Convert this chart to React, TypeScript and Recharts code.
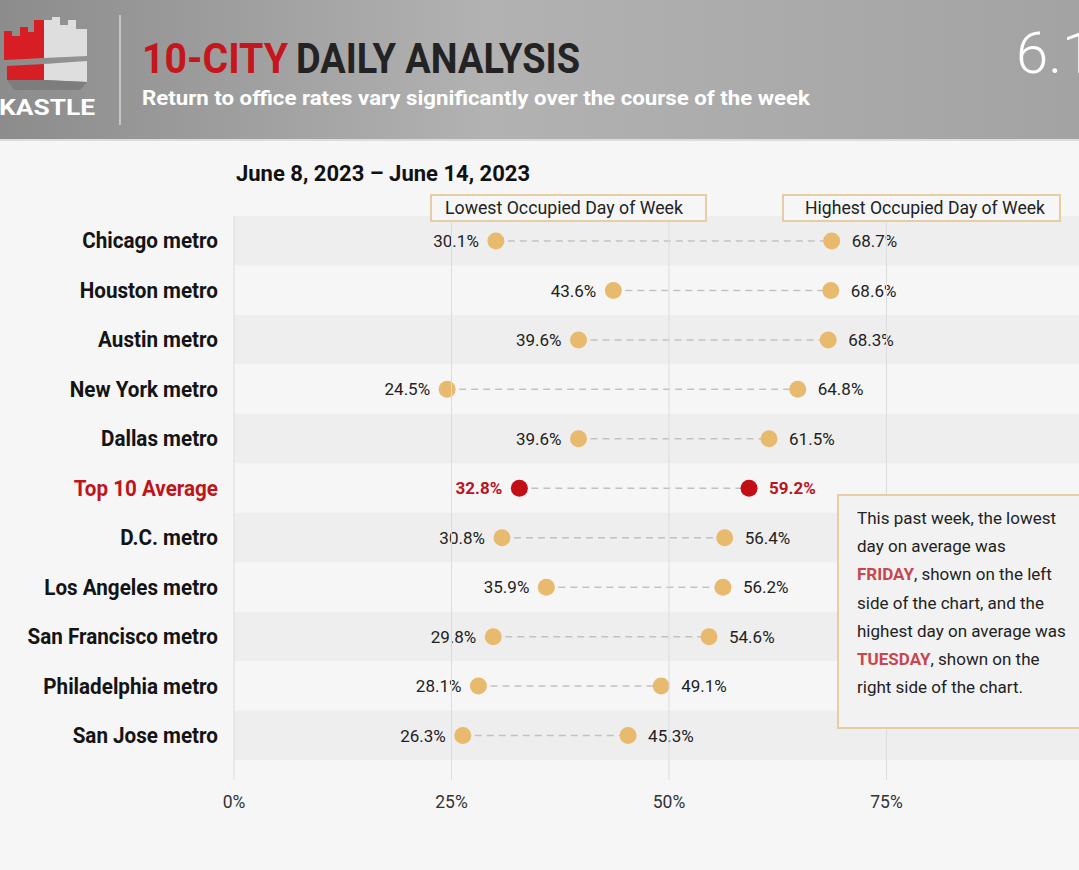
import React from 'react';
import {
  ComposedChart,
  Bar,
  XAxis,
  YAxis,
  ReferenceArea,
  ReferenceLine,
} from 'recharts';

const cities = [
  'Chicago metro',
  'Houston metro',
  'Austin metro',
  'New York metro',
  'Dallas metro',
  'Top 10 Average',
  'D.C. metro',
  'Los Angeles metro',
  'San Francisco metro',
  'Philadelphia metro',
  'San Jose metro',
];
const lowest = [30.1, 43.6, 39.6, 24.5, 39.6, 32.8, 30.8, 35.9, 29.8, 28.1, 26.3];
const highest = [68.7, 68.6, 68.3, 64.8, 61.5, 59.2, 56.4, 56.2, 54.6, 49.1, 45.3];
const xTicks = [0, 25, 50, 75];
const highlightCity = 'Top 10 Average';

const FONT = 'Roboto, "Noto Sans", sans-serif';
const TAN = '#e8ba6d';
const RED = '#c20f16';
const BAND = '#eeeeee';
const BG = '#f6f6f6';

const chartData = cities.map((city, i) => ({
  city,
  low: lowest[i],
  high: highest[i],
  range: [lowest[i], highest[i]],
  highlight: city === highlightCity,
}));

function Dumbbell(props: any) {
  const { x, y, width, height, payload } = props;
  const cy = y + height / 2;
  const hot = payload.highlight;
  const dot = hot ? RED : TAN;
  const labelColor = hot ? '#b8151c' : '#222';
  return (
    <g>
      <line
        x1={x}
        x2={x + width}
        y1={cy}
        y2={cy}
        stroke="#c2c2c2"
        strokeWidth={1.5}
        strokeDasharray="7 5"
      />
      <circle cx={x} cy={cy} r={8.5} fill={dot} />
      <circle cx={x + width} cy={cy} r={8.5} fill={dot} />
      <text
        x={x - 17}
        y={cy}
        dy="0.36em"
        textAnchor="end"
        fontFamily={FONT}
        fontSize={17}
        fontWeight={hot ? 700 : 400}
        fill={labelColor}
      >
        {payload.low.toFixed(1)}%
      </text>
      <text
        x={x + width + 20}
        y={cy}
        dy="0.36em"
        textAnchor="start"
        fontFamily={FONT}
        fontSize={17}
        fontWeight={hot ? 700 : 400}
        fill={labelColor}
      >
        {payload.high.toFixed(1)}%
      </text>
    </g>
  );
}

// condensed-looking bold city names
function CityTick(props: any) {
  const { x, y, payload } = props;
  const hot = payload.value === highlightCity;
  return (
    <text
      transform={`translate(${x},${y}) scale(0.96,1)`}
      dy="0.36em"
      textAnchor="end"
      fontFamily={FONT}
      fontWeight={700}
      fontSize={21.5}
      fill={hot ? '#bf141b' : '#141414'}
    >
      {payload.value}
    </text>
  );
}

function Header() {
  return (
    <svg width={1079} height={142} style={{ position: 'absolute', left: 0, top: 0 }}>
      <defs>
        <linearGradient id="hdr" x1="0" y1="0" x2="1" y2="0">
          <stop offset="0" stopColor="#8c8c8c" />
          <stop offset="0.45" stopColor="#b2b2b2" />
          <stop offset="1" stopColor="#a3a3a3" />
        </linearGradient>
      </defs>
      <rect x={0} y={0} width={1079} height={140} fill="url(#hdr)" />
      <rect x={0} y={139} width={1079} height={2} fill="#dcdcdc" />
      {/* logo */}
      <g>
        <path d="M4 40 L4 31 L12 31 L12 36 L20 36 L20 27 L28 27 L28 32 L34 32 L34 20 L44 20 L44 58 L4 60 Z" fill="#d81e25" />
        <path d="M44 20 L52 20 L52 17 L60 17 L60 25 L68 25 L68 20 L76 20 L76 29 L87 29 L87 56 L44 58 Z" fill="#dedede" />
        <path d="M7 66 L44 64 L44 80 L7 80 Z" fill="#d81e25" />
        <path d="M44 64 L87 61 L87 82 L44 80 Z" fill="#dedede" />
        <path d="M7 80 L44 80 L87 82 L80 90 L14 90 Z" fill="#7d7d7d" />
      </g>
      <text
        x={-1}
        y={115}
        fontFamily={FONT}
        fontWeight={700}
        fontSize={22}
        fill="#ffffff"
        textLength={96}
        lengthAdjust="spacingAndGlyphs"
      >
        KASTLE
      </text>
      <line x1={120} x2={120} y1={15} y2={125} stroke="#d6d6d6" strokeWidth={1.5} />
      <text
        x={142}
        y={73}
        fontFamily={FONT}
        fontWeight={700}
        fontSize={43}
        fill="#c4161c"
        textLength={146}
        lengthAdjust="spacingAndGlyphs"
      >
        10-CITY
      </text>
      <text
        x={296}
        y={73}
        fontFamily={FONT}
        fontWeight={700}
        fontSize={43}
        fill="#232323"
        textLength={284}
        lengthAdjust="spacingAndGlyphs"
      >
        DAILY ANALYSIS
      </text>
      <text
        x={142}
        y={105}
        fontFamily={FONT}
        fontWeight={700}
        fontSize={21}
        fill="#ffffff"
        textLength={668}
        lengthAdjust="spacingAndGlyphs"
      >
        Return to office rates vary significantly over the course of the week
      </text>
      <text x={1016} y={73} fontFamily={FONT} fontWeight={300} fontSize={58} fill="#ffffff">
        6.19
      </text>
    </svg>
  );
}

function Overlay() {
  const legend = { stroke: '#e6cda4', strokeWidth: 2, fill: BG };
  const txt = { fontFamily: FONT, fontSize: 17, fill: '#222' };
  const lines: React.ReactNode[] = [
    'This past week, the lowest',
    'day on average was',
    <>
      <tspan fontWeight={700} fill="#c8474e">FRIDAY</tspan>, shown on the left
    </>,
    'side of the chart, and the',
    'highest day on average was',
    <>
      <tspan fontWeight={700} fill="#c8474e">TUESDAY</tspan>, shown on the
    </>,
    'right side of the chart.',
  ];
  return (
    <svg
      width={1079}
      height={870}
      style={{ position: 'absolute', left: 0, top: 0, pointerEvents: 'none' }}
    >
      <text
        x={236}
        y={181}
        fontFamily={FONT}
        fontWeight={700}
        fontSize={21.5}
        fill="#111"
        textLength={294}
        lengthAdjust="spacingAndGlyphs"
      >
        June 8, 2023 – June 14, 2023
      </text>
      <rect x={431} y={195} width={275} height={26} {...legend} />
      <text
        x={445}
        y={214}
        {...txt}
        fontSize={17.5}
        textLength={238}
        lengthAdjust="spacingAndGlyphs"
      >
        Lowest Occupied Day of Week
      </text>
      <rect x={783} y={195} width={277} height={26} {...legend} />
      <text
        x={805}
        y={214}
        {...txt}
        fontSize={17.5}
        textLength={240}
        lengthAdjust="spacingAndGlyphs"
      >
        Highest Occupied Day of Week
      </text>
      <rect x={838} y={495} width={260} height={233} stroke="#e6cda4" strokeWidth={2} fill="#f2f2f2" />
      {lines.map((l, i) => (
        <text key={i} x={857} y={524 + i * 28.2} {...txt}>
          {l}
        </text>
      ))}
    </svg>
  );
}

export default function App() {
  return (
    <div
      style={{
        position: 'absolute',
        left: 0,
        top: 0,
        width: 1079,
        height: 870,
        overflow: 'hidden',
        background: BG,
        fontFamily: FONT,
      }}
    >
      <Header />
      <div style={{ position: 'absolute', left: 0, top: 0 }}>
        <ComposedChart
          width={1110}
          height={870}
          data={chartData}
          layout="vertical"
          margin={{ top: 216, right: 6, bottom: 60, left: 0 }}
        >
          <XAxis
            type="number"
            domain={[0, 100]}
            ticks={xTicks}
            tickFormatter={(v) => `${v}%`}
            axisLine={false}
            tickLine={false}
            tickSize={0}
            tickMargin={16}
            height={30}
            tick={{ fontFamily: FONT, fontSize: 17.5, fill: '#333' }}
          />
          <YAxis
            type="category"
            dataKey="city"
            width={234}
            axisLine={false}
            tickLine={false}
            tickSize={0}
            tickMargin={16}
            interval={0}
            padding={{ top: 0, bottom: 20 }}
            tick={<CityTick />}
          />
          {cities.map((c, i) =>
            i % 2 === 0 ? (
              <ReferenceArea
                key={c}
                y1={c}
                y2={c}
                fill={BAND}
                fillOpacity={1}
                stroke="none"
                ifOverflow="visible"
              />
            ) : null
          )}
          {xTicks.map((t) => (
            <ReferenceLine key={t} x={t} stroke="#dcdcdc" strokeWidth={1} />
          ))}
          <Bar dataKey="range" barSize={16} shape={<Dumbbell />} isAnimationActive={false} />
        </ComposedChart>
      </div>
      <Overlay />
    </div>
  );
}
